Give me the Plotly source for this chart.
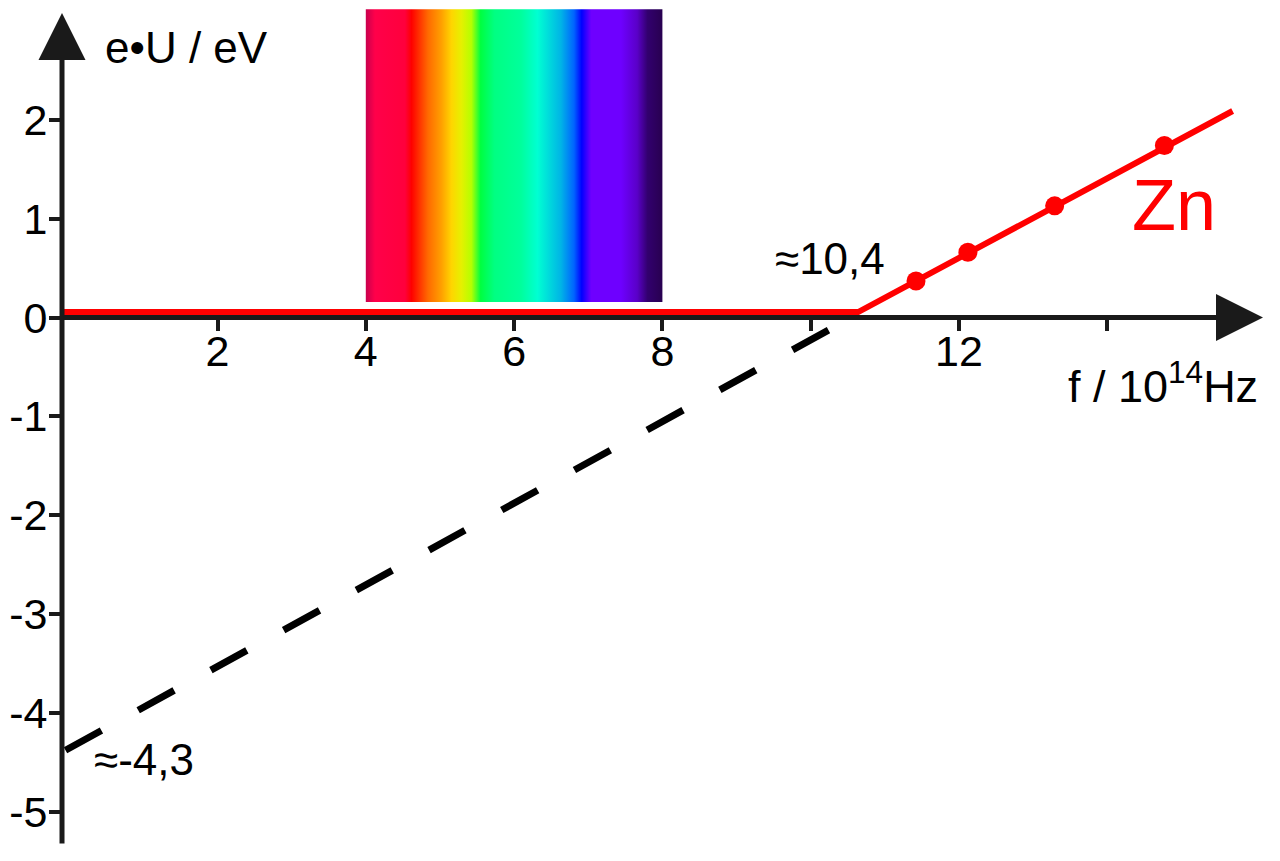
import plotly.graph_objects as go

# Messpunkte Zn: Frequenz f in 10^14 Hz, Gegenspannung e*U in eV
f_mess = [11.42, 12.12, 13.29, 14.77]
eU_mess = [0.37, 0.66, 1.13, 1.74]

# Kennlinie: flach bis zur Grenzfrequenz, dann linear
f_kennlinie = [-0.097, 10.64, 15.69]
eU_kennlinie = [0.055, 0.055, 2.09]

# Extrapolation bis zur Achse (Austrittsarbeit)
f_extra = [-0.05, 10.5]
eU_extra = [-4.38, -0.02]

# sichtbares Spektrum (4..8 *10^14 Hz)
f_licht = [4.0, 8.0]
spektrum_pos = [0.0, 0.031, 0.132, 0.154, 0.21, 0.255, 0.289, 0.322, 0.356, 0.387,
                0.434, 0.523, 0.579, 0.658, 0.702, 0.728, 0.76, 0.86, 0.915, 0.95, 1.0]
spektrum_farben = ['#c8004e', '#ff004a', '#ff003c', '#ff0000', '#ff6a00', '#ffa000',
                   '#ffd500', '#e6f000', '#b4ff00', '#00ff40', '#00ff82', '#00ff9c',
                   '#00ffd2', '#00b4e6', '#0064ff', '#0000ff', '#6e00ff', '#6e00ff',
                   '#5a00c8', '#32006e', '#280050']

x_ticks = [2, 4, 6, 8, 10, 12, 14]
x_ticktext = ['2', '4', '6', '8', '', '12', '']
y_ticks = [2, 1, 0, -1, -2, -3, -4, -5]
y_ticktext = ['2', '1', '0', '-1', '-2', '-3', '-4', '-5']

FONT = 'Liberation Sans, Arial, sans-serif'
ACHSE = '#1a1a1a'

fig = go.Figure()

# Spektrum als Rechteck mit Farbverlauf
fig.add_trace(go.Scatter(
    x=[f_licht[0], f_licht[1], f_licht[1], f_licht[0], f_licht[0]],
    y=[0.157, 0.157, 3.12, 3.12, 0.157],
    mode='lines', line=dict(width=0), fill='toself',
    fillgradient=dict(type='horizontal', start=f_licht[0], stop=f_licht[1],
                      colorscale=[[p, c] for p, c in zip(spektrum_pos, spektrum_farben)]),
    hoverinfo='skip',
))

fig.add_trace(go.Scatter(
    x=f_extra, y=eU_extra, mode='lines',
    line=dict(color='black', width=7, dash='41px,42px'),
    hoverinfo='skip',
))

fig.add_trace(go.Scatter(
    x=f_kennlinie, y=eU_kennlinie, mode='lines',
    line=dict(color='#ff0000', width=6),
    hoverinfo='skip',
))

fig.add_trace(go.Scatter(
    x=f_mess, y=eU_mess, mode='markers',
    marker=dict(color='#ff0000', size=19),
))

# Achsen mit Pfeilspitzen
fig.add_annotation(x=-0.097, y=3.082, ax=-0.097, ay=-5.339, axref='x', ayref='y',
                   text='', showarrow=True, arrowhead=2, arrowwidth=5, arrowsize=1.88,
                   arrowcolor=ACHSE, standoff=0)
fig.add_annotation(x=16.10, y=0, ax=-0.097, ay=0, axref='x', ayref='y',
                   text='', showarrow=True, arrowhead=2, arrowwidth=5, arrowsize=1.88,
                   arrowcolor=ACHSE, standoff=0)

# Beschriftungen
fig.add_annotation(x=0.456, y=2.733, text='e•U / eV', showarrow=False,
                   xanchor='left', yanchor='middle', font=dict(size=44))
fig.add_annotation(x=16.06, y=-0.66, text='f / 10<sup>14</sup>Hz', showarrow=False,
                   xanchor='right', yanchor='middle', font=dict(size=45))
fig.add_annotation(x=9.488, y=0.601, text='≈10,4', showarrow=False,
                   xanchor='left', yanchor='middle', font=dict(size=44))
fig.add_annotation(x=0.307, y=-4.477, text='≈-4,3', showarrow=False,
                   xanchor='left', yanchor='middle', font=dict(size=44))
fig.add_annotation(x=14.30, y=1.14, text='Zn', showarrow=False,
                   xanchor='left', yanchor='middle', font=dict(size=72, color='#ff0000'))

# Seite hat 8px Rand -> Figur 1272x853
fig.update_layout(
    template='none',
    width=1272, height=853,
    margin=dict(l=0, r=0, t=0, b=0),
    paper_bgcolor='white', plot_bgcolor='white',
    showlegend=False,
    font=dict(family=FONT, size=43, color='black'),
)
fig.update_xaxes(
    range=[-0.8254, 16.329], anchor='free', position=0.63716, automargin=False,
    showgrid=False, zeroline=False, showline=False,
    tickvals=x_ticks, ticktext=x_ticktext,
    ticks='outside', ticklen=12, tickwidth=4, tickcolor=ACHSE,
    ticklabelstandoff=-16,
)
fig.update_yaxes(
    range=[-5.501, 3.1326], anchor='free', position=0.04245, automargin=False,
    showgrid=False, zeroline=False, showline=False,
    tickvals=y_ticks, ticktext=y_ticktext,
    ticks='outside', ticklen=13, tickwidth=4, tickcolor=ACHSE,
    ticklabelstandoff=-7,
)

fig.write_html('out.html')
